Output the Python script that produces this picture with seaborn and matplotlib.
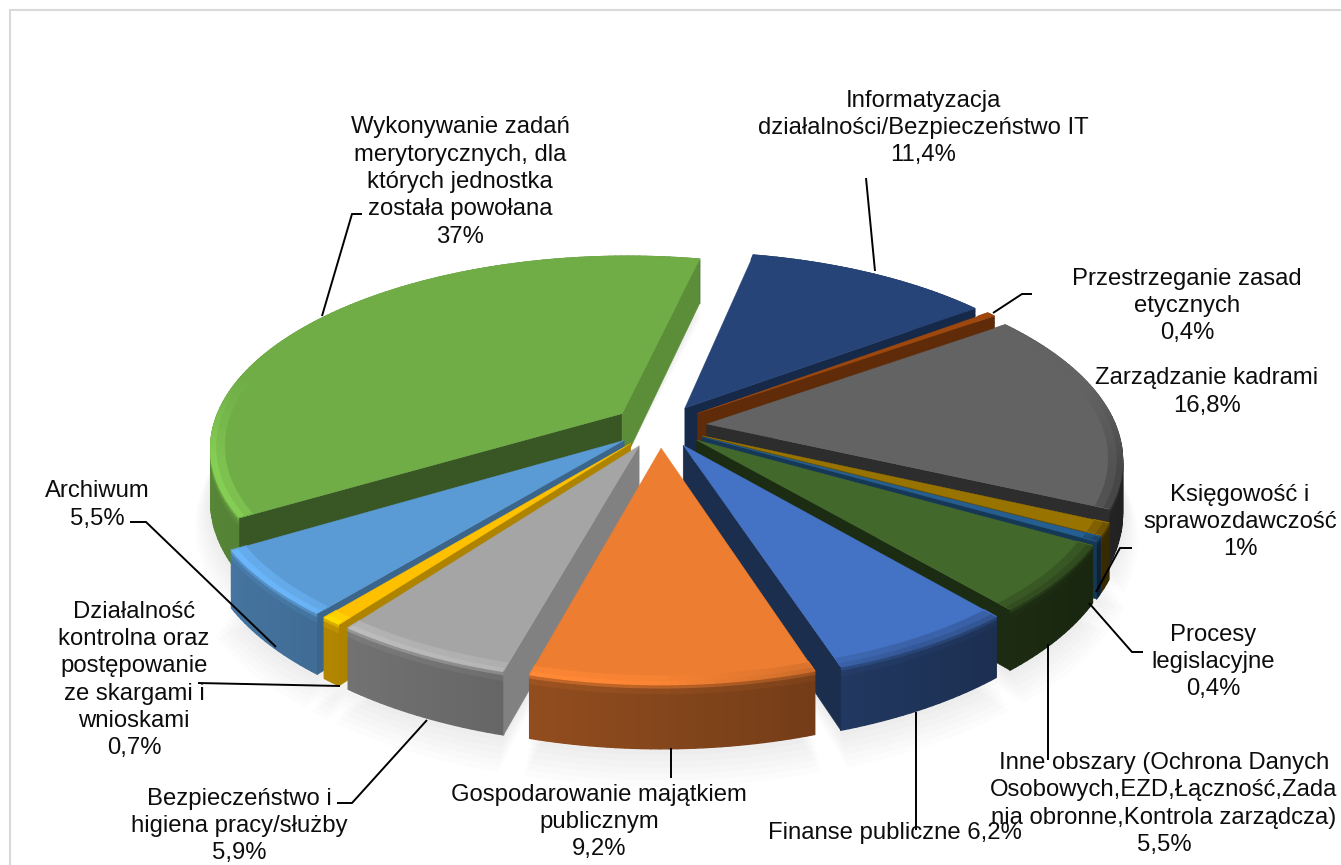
import numpy as np
import matplotlib
matplotlib.use("Agg")
import matplotlib.pyplot as plt
import seaborn as sns
from matplotlib.collections import PolyCollection

# ---- data (clockwise from the first slice) ----
names = ["Informatyzacja", "Przestrzeganie", "Kadry", "Księgowość", "Procesy", "Inne",
         "Finanse", "Majątek", "BHP", "Kontrola", "Archiwum", "Merytoryczne"]
shares = [11.4, 0.4, 16.8, 1.0, 0.4, 5.5, 6.2, 9.2, 5.9, 0.7, 5.5, 37.0]
colors = ["#264478", "#9E480E", "#636363", "#997300", "#255E91", "#43682B",
          "#4472C4", "#ED7D31", "#A5A5A5", "#FFC000", "#5B9BD5", "#70AD47"]
# shade of the cut faces: first (clockwise start) and second edge
face_start = [.60, .55, .45, .60, .60, .42, .40, .60, .78, .68, .65, .50]
face_end = [.60, .60, .45, .60, .60, .42, .40, .60, .78, .68, .65, .82]

labels = [
    ("Wykonywanie zadań\nmerytorycznych, dla\nktórych jednostka\nzostała powołana\n37%", 460, 182),
    ("Informatyzacja\ndziałalności/Bezpieczeństwo IT\n11,4%", 923, 128),
    ("Przestrzeganie zasad\netycznych\n0,4%", 1187, 306),
    ("Zarządzanie kadrami\n16,8%", 1207, 392),
    ("Księgowość i\nsprawozdawczość\n1%", 1240, 522),
    ("Procesy\nlegislacyjne\n0,4%", 1213, 662),
    ("Inne obszary (Ochrona Danych\nOsobowych,EZD,Łączność,Zada\nnia obronne,Kontrola zarządcza)\n5,5%", 1164, 804),
    ("Finanse publiczne 6,2%", 895, 833),
    ("Gospodarowanie majątkiem\npublicznym\n9,2%", 599, 822),
    ("Bezpieczeństwo i\nhigiena pracy/służby\n5,9%", 239, 826),
    ("Działalność\nkontrolna oraz\npostępowanie\nze skargami i\nwnioskami\n0,7%", 134, 680),
    ("Archiwum\n5,5%", 97, 505),
]
leaders = [
    ([322, 352, 362], [316, 214, 214]),
    ([866, 875], [178, 271]),
    ([993, 1022, 1032], [313, 294, 294]),
    ([1096, 1120, 1132], [592, 548, 548]),
    ([1089, 1132, 1143], [603, 652, 652]),
    ([1048, 1048], [644, 760]),
    ([916, 916], [712, 830]),
    ([671, 671], [748, 778]),
    ([337, 352, 427], [803, 803, 720]),
    ([198, 340], [683, 686]),
    ([130, 146, 276], [522, 522, 647]),
]

sns.set_theme(style="white")
plt.rcParams["font.family"] = ["Liberation Sans", "DejaVu Sans"]

W, H = 1341, 865
fig = plt.figure(figsize=(W / 100, H / 100), dpi=100, facecolor="white")
ax = fig.add_axes([0, 0, 1, 1])
ax.set_xlim(0, W)
ax.set_ylim(H, 0)
ax.axis("off")
palette = sns.color_palette(colors)

# ---- projection of the tilted disc ----
CX, CY, A, K, P, DEPTH, EXPLODE = 660, 426, 409, 188, 0.17, 52, 0.115
FIRST = 12.0


def proj(x, y, z=0.0):
    s = 1 + P * y
    return CX + A * x / s, CY + (-K * y + DEPTH * z) / s


def shade(c, f):
    return tuple(np.clip(np.array(c) * f, 0, 1))


def mix(c1, c2, t):
    return tuple(np.array(c1) * (1 - t) + np.array(c2) * t)


def area(q):
    xs, ys = np.array(q).T
    return np.sum(xs * np.roll(ys, -1) - np.roll(xs, -1) * ys)


edges = FIRST + np.concatenate([[0], np.cumsum(shares)]) * 3.6
slices = []
for i in range(len(shares)):
    slices.append((edges[i], edges[i + 1], i))
slices.sort(key=lambda s: -abs(((s[0] + s[1]) / 2) % 360 - 180))


def point(t, r, o):
    rad = np.radians(t)
    return o[0] + r * np.sin(rad), o[1] + r * np.cos(rad)


# soft shadow beneath the pie
for k in range(7):
    for t0, t1, i in slices:
        mid = np.radians((t0 + t1) / 2)
        o = (EXPLODE * np.sin(mid), EXPLODE * np.cos(mid))
        ts = np.linspace(t0, t1, 60)
        r = 1.0 + 0.006 * k
        pts = [proj(o[0], o[1], 1.0)] + [proj(*point(t, r, o), 1.0 + 0.07 * k) for t in ts]
        ax.fill(*zip(*pts), color="#000000", alpha=0.012, lw=0, zorder=1)

z = 2
for t0, t1, i in slices:
    c = palette[i]
    mid = np.radians((t0 + t1) / 2)
    o = (EXPLODE * np.sin(mid), EXPLODE * np.cos(mid))
    # outer wall and bevel, built from narrow strips; wall first, rim last
    n = max(int((t1 - t0) / 1.0), 2)
    ts = np.linspace(t0, t1, n + 1)
    stops = [(0.965, 0.0), (0.985, 0.0), (1.0, 0.0), (1.0, 0.05), (1.0, 0.14), (1.0, 1.0)]
    bands = [[] for _ in stops[:-1]]
    for a, b in zip(ts[:-1], ts[1:]):
        tm = np.radians((a + b) / 2)
        m, cs = np.sin(tm), np.cos(tm)
        wall = shade(c, 0.60 - 0.24 * m)
        lit = shade(c, 1.20 - 0.14 * (m + 1))
        peak = mix(lit, mix(c, wall, 0.45), np.clip(m / 0.45, 0, 1))
        peak = mix(c, peak, np.clip((0.2 - cs) / 0.45, 0, 1))   # rim fades out on the far side
        tones = [c, mix(c, peak, 0.6), peak, mix(peak, wall, 0.6), wall, shade(wall, 0.93)]
        for j, ((r1, z1), (r2, z2)) in enumerate(zip(stops[:-1], stops[1:])):
            bands[j].append(([proj(*point(a, r1, o), z1), proj(*point(b, r1, o), z1),
                              proj(*point(b, r2, o), z2), proj(*point(a, r2, o), z2)], tones[j + 1]))
    for band in reversed(bands):
        polys = [p for p, _ in band]
        cols = [col for _, col in band]
        ax.add_collection(PolyCollection(polys, facecolors=cols, edgecolors=cols, linewidths=1.0, zorder=z))
        z += 1
    # cut faces, only those that turn towards the viewer
    for t, f, sign in ((t0, face_start[i], -1), (t1, face_end[i], 1)):
        e = point(t, 1, o)
        quad = [proj(*o, 0), proj(*e, 0), proj(*e, 1), proj(*o, 1)]
        if area(quad) * sign > 0:
            ax.fill(*zip(*quad), color=shade(c, f), ec=shade(c, f), lw=0.4, zorder=z)
            z += 1
    # top face
    arc = [proj(*point(t, 0.966, o)) for t in ts]
    e0 = proj(*point(t0, 1, o))
    e1 = proj(*point(t1, 1, o))
    top = [proj(*o)] + [e0] + arc + [e1]
    ax.fill(*zip(*top), color=c, ec=c, lw=0.3, zorder=z)
    z += 1

# ---- leaders and labels ----
for xs, ys in leaders:
    ax.plot(xs, ys, color="black", lw=1.4, zorder=z, solid_capstyle="butt", solid_joinstyle="miter")
for text, x, y in labels:
    ax.text(x, y, text, ha="center", va="center", fontsize=17.2, color="#0d0d0d",
            linespacing=1.31, zorder=z + 1)

# chart frame
ax.plot([W, 10, 10], [10, 10, H], color="#D9D9D9", lw=1.5, zorder=0)

fig.savefig("out.png", dpi=100, facecolor="white")
